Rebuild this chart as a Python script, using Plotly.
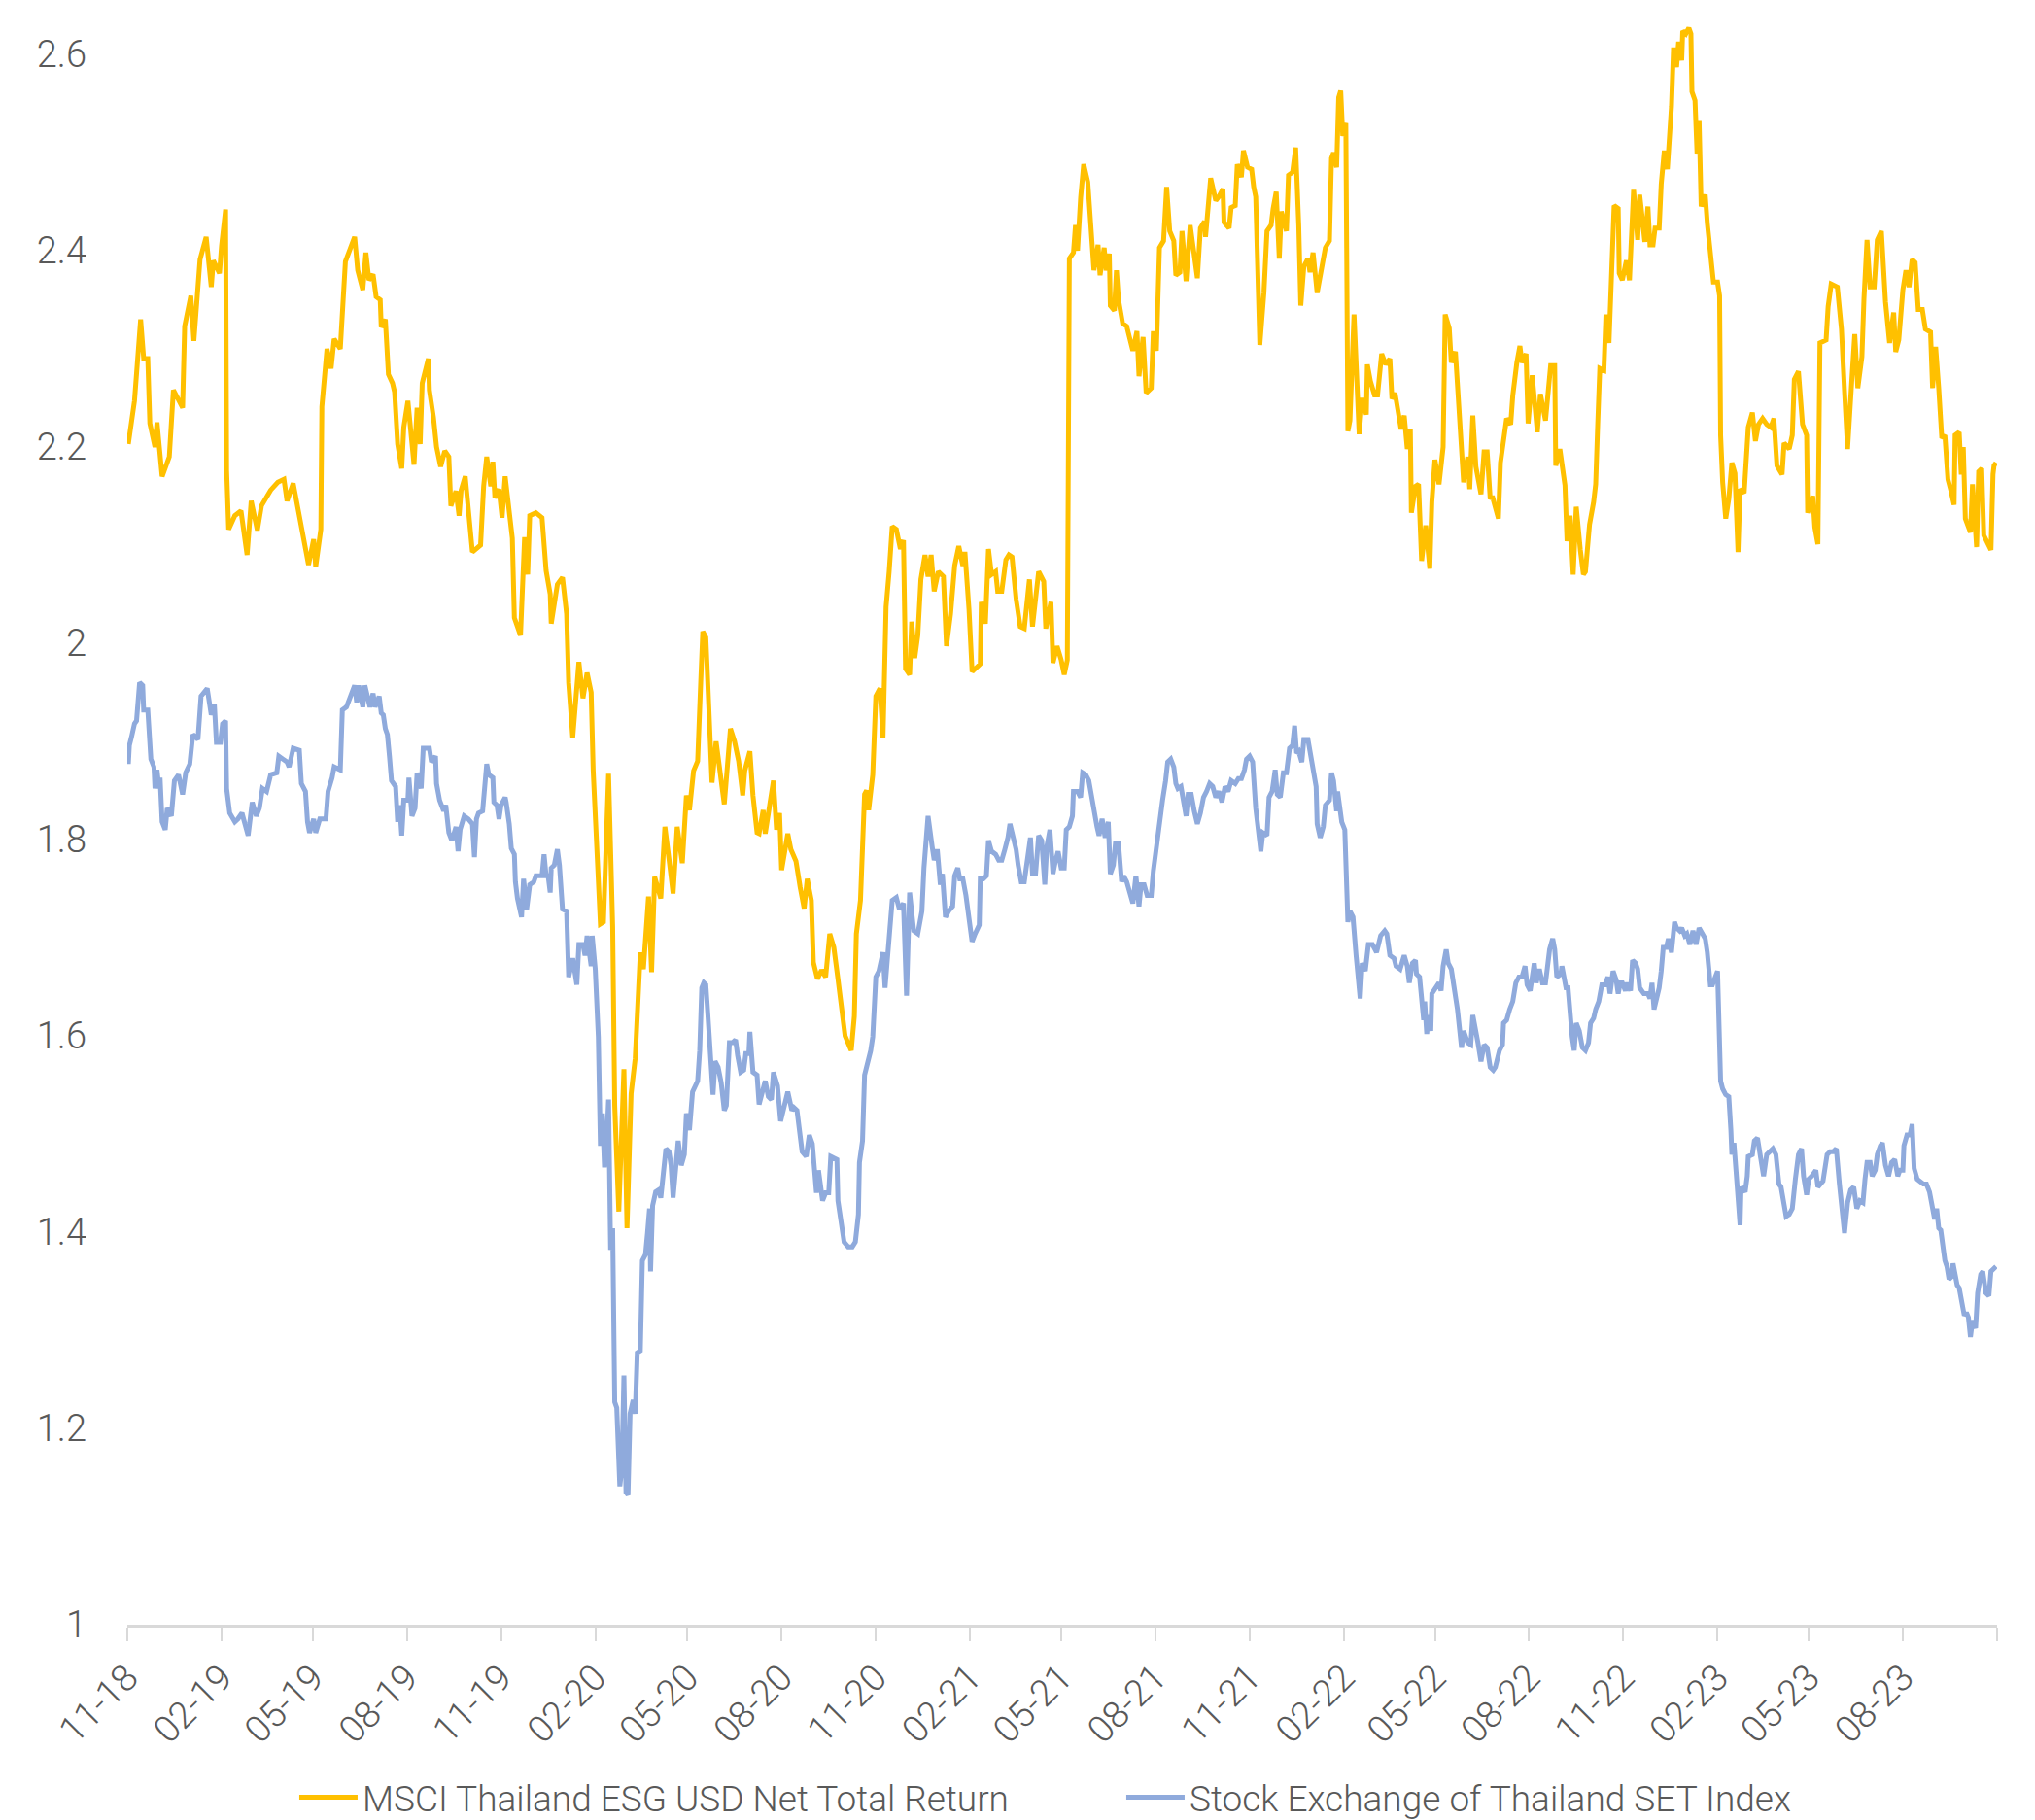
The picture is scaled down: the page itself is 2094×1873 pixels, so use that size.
import pandas as pd
import plotly.graph_objects as go

START = pd.Timestamp("2018-11-01")

# MSCI Thailand ESG USD Net Total Return (days since START, index value)
msci_days = [
    1, 3, 7, 13, 16, 20, 22, 27, 29, 34,
    41, 45, 54, 56, 62, 65, 71, 77, 82, 84,
    90, 92, 96, 97, 99, 105, 111, 117, 121, 127,
    131, 140, 147, 153, 156, 162, 168, 177, 182, 184,
    189, 190, 195, 199, 202, 208, 213, 222, 225, 230,
    233, 236, 240, 243, 247, 248, 252, 255, 259, 261,
    264, 268, 270, 274, 280, 283, 286, 288, 294, 295,
    299, 302, 306, 310, 314, 316, 321, 324, 326, 330,
    337, 342, 345, 348, 351, 355, 357, 359, 363, 366,
    369, 376, 378, 384, 388, 391, 393, 399, 405, 409,
    413, 414, 420, 425, 429, 431, 433, 435, 441, 445,
    449, 453, 455, 459, 462, 465, 467, 470, 474, 476,
    480, 485, 488, 492, 496, 501, 504, 509, 512, 515,
    521, 525, 529, 533, 537, 542, 546, 549, 553, 557,
    560, 562, 565, 571, 575, 579, 583, 589, 593, 597,
    601, 603, 608, 611, 615, 617, 621, 623, 628, 631,
    634, 637, 639, 645, 648, 653, 657, 661, 664, 668,
    670, 674, 678, 682, 686, 690, 694, 698, 701, 707,
    710, 712, 716, 720, 722, 724, 728, 731, 735, 738,
    741, 744, 747, 751, 755, 758, 760, 764, 766, 769,
    772, 775, 779, 782, 785, 788, 792, 797, 800, 804,
    808, 812, 816, 818, 822, 825, 828, 833, 834, 838,
    841, 844, 848, 850, 854, 858, 861, 864, 868, 872,
    876, 881, 884, 890, 895, 897, 902, 904, 908, 912,
    915, 918, 920, 924, 926, 928, 931, 934, 938, 940,
    944, 948, 950, 954, 956, 959, 960, 964, 966, 968,
    972, 976, 979, 982, 986, 988, 992, 995, 1000, 1002,
    1005, 1008, 1012, 1015, 1018, 1022, 1024, 1028, 1030, 1034,
    1038, 1042, 1045, 1048, 1052, 1053, 1056, 1058, 1063, 1066,
    1070, 1071, 1076, 1078, 1082, 1084, 1088, 1090, 1094, 1098,
    1100, 1102, 1106, 1110, 1113, 1117, 1119, 1122, 1125, 1127,
    1132, 1134, 1138, 1141, 1144, 1146, 1149, 1153, 1155, 1158,
    1162, 1165, 1170, 1174, 1176, 1178, 1181, 1183, 1185, 1187,
    1190, 1192, 1194, 1198, 1201, 1203, 1206, 1210, 1211, 1214,
    1218, 1221, 1225, 1229, 1233, 1235, 1238, 1240, 1244, 1247,
    1250, 1253, 1254, 1258, 1261, 1264, 1268, 1272, 1274, 1277,
    1281, 1285, 1287, 1291, 1293, 1297, 1301, 1305, 1309, 1311,
    1314, 1317, 1322, 1325, 1328, 1331, 1333, 1339, 1341, 1347,
    1351, 1353, 1357, 1360, 1362, 1366, 1368, 1372, 1377, 1380,
    1385, 1388, 1390, 1394, 1395, 1399, 1404, 1406, 1409, 1412,
    1415, 1419, 1422, 1424, 1428, 1432, 1434, 1436, 1438, 1442,
    1444, 1447, 1450, 1452, 1456, 1457, 1460, 1464, 1467, 1471,
    1475, 1477, 1482, 1485, 1487, 1490, 1492, 1496, 1498, 1501,
    1504, 1508, 1510, 1513, 1515, 1518, 1519, 1522, 1525, 1527,
    1528, 1531, 1533, 1535, 1537, 1541, 1543, 1547, 1549, 1553,
    1555, 1556, 1558, 1561, 1564, 1567, 1570, 1573, 1575, 1579,
    1583, 1587, 1590, 1593, 1597, 1601, 1605, 1608, 1611, 1616,
    1618, 1623, 1626, 1628, 1632, 1636, 1640, 1641, 1646, 1648,
    1651, 1653, 1659, 1661, 1664, 1670, 1674, 1677, 1680, 1684,
    1687, 1690, 1694, 1696, 1699, 1702, 1706, 1709, 1713, 1717,
    1721, 1725, 1727, 1730, 1734, 1737, 1740, 1743, 1746, 1749,
    1753, 1756, 1761, 1763, 1766, 1769, 1772, 1775, 1778, 1781,
    1784, 1785, 1789, 1791, 1793, 1795, 1800, 1802, 1806, 1808,
    1811, 1813, 1818, 1820, 1822, 1823, 1825,
]
msci_values = [
    2.203, 2.22, 2.247, 2.33, 2.29, 2.29, 2.224, 2.20, 2.225, 2.17,
    2.19, 2.258, 2.24, 2.323, 2.354, 2.308, 2.391, 2.414, 2.363, 2.39,
    2.377, 2.405, 2.442, 2.176, 2.116, 2.13, 2.135, 2.09, 2.145, 2.115,
    2.14, 2.156, 2.164, 2.167, 2.145, 2.163, 2.127, 2.08, 2.106, 2.078,
    2.116, 2.241, 2.30, 2.28, 2.31, 2.30, 2.389, 2.414, 2.38, 2.36,
    2.398, 2.37, 2.376, 2.353, 2.35, 2.322, 2.33, 2.274, 2.265, 2.256,
    2.203, 2.178, 2.22, 2.247, 2.182, 2.24, 2.203, 2.265, 2.29, 2.258,
    2.23, 2.20, 2.18, 2.196, 2.19, 2.14, 2.155, 2.13, 2.156, 2.17,
    2.093, 2.097, 2.10, 2.16, 2.19, 2.16, 2.185, 2.148, 2.157, 2.128,
    2.17, 2.107, 2.026, 2.008, 2.108, 2.07, 2.13, 2.133, 2.128, 2.074,
    2.05, 2.02, 2.06, 2.067, 2.03, 1.96, 1.933, 1.904, 1.981, 1.944,
    1.97, 1.95, 1.87, 1.785, 1.714, 1.716, 1.779, 1.867, 1.711, 1.529,
    1.421, 1.566, 1.404, 1.541, 1.577, 1.685, 1.668, 1.742, 1.665, 1.762,
    1.74, 1.813, 1.78, 1.745, 1.813, 1.776, 1.845, 1.83, 1.87, 1.88,
    1.961, 2.012, 2.006, 1.858, 1.90, 1.87, 1.836, 1.913, 1.90, 1.88,
    1.845, 1.87, 1.89, 1.845, 1.807, 1.806, 1.83, 1.806, 1.84, 1.86,
    1.81, 1.827, 1.769, 1.806, 1.79, 1.778, 1.752, 1.73, 1.76, 1.738,
    1.675, 1.658, 1.667, 1.66, 1.704, 1.69, 1.658, 1.62, 1.60, 1.585,
    1.62, 1.704, 1.738, 1.846, 1.85, 1.83, 1.866, 1.946, 1.954, 1.903,
    2.037, 2.073, 2.119, 2.116, 2.096, 2.105, 1.974, 1.968, 2.022, 1.985,
    2.008, 2.065, 2.09, 2.068, 2.09, 2.053, 2.073, 2.068, 1.997, 2.03,
    2.079, 2.099, 2.079, 2.093, 2.034, 1.971, 1.974, 1.979, 2.042, 2.02,
    2.096, 2.07, 2.073, 2.053, 2.053, 2.085, 2.09, 2.088, 2.045, 2.017,
    2.015, 2.065, 2.017, 2.073, 2.063, 2.015, 2.042, 1.98, 1.997, 1.983,
    1.968, 1.983, 2.392, 2.398, 2.426, 2.40, 2.454, 2.488, 2.47, 2.435,
    2.38, 2.406, 2.375, 2.403, 2.38, 2.397, 2.344, 2.339, 2.38, 2.35,
    2.326, 2.323, 2.312, 2.298, 2.318, 2.272, 2.312, 2.255, 2.26, 2.318,
    2.298, 2.403, 2.41, 2.465, 2.42, 2.41, 2.375, 2.378, 2.42, 2.369,
    2.426, 2.394, 2.372, 2.423, 2.43, 2.414, 2.46, 2.474, 2.451, 2.455,
    2.463, 2.429, 2.423, 2.444, 2.446, 2.488, 2.475, 2.502, 2.485, 2.483,
    2.465, 2.455, 2.304, 2.357, 2.42, 2.426, 2.443, 2.46, 2.392, 2.44,
    2.42, 2.477, 2.48, 2.505, 2.426, 2.344, 2.384, 2.392, 2.378, 2.398,
    2.357, 2.375, 2.403, 2.41, 2.494, 2.50, 2.485, 2.556, 2.563, 2.517,
    2.53, 2.216, 2.227, 2.335, 2.261, 2.213, 2.25, 2.233, 2.284, 2.267,
    2.253, 2.253, 2.295, 2.284, 2.29, 2.249, 2.255, 2.24, 2.218, 2.232,
    2.198, 2.218, 2.133, 2.16, 2.162, 2.084, 2.12, 2.076, 2.144, 2.187,
    2.162, 2.20, 2.335, 2.321, 2.286, 2.297, 2.229, 2.164, 2.19, 2.157,
    2.232, 2.18, 2.152, 2.195, 2.195, 2.147, 2.15, 2.127, 2.184, 2.229,
    2.223, 2.252, 2.286, 2.303, 2.286, 2.295, 2.224, 2.273, 2.215, 2.254,
    2.227, 2.262, 2.283, 2.283, 2.181, 2.198, 2.161, 2.104, 2.13, 2.07,
    2.139, 2.095, 2.07, 2.073, 2.121, 2.144, 2.162, 2.224, 2.28, 2.278,
    2.335, 2.306, 2.374, 2.446, 2.443, 2.377, 2.37, 2.39, 2.37, 2.462,
    2.411, 2.457, 2.409, 2.445, 2.406, 2.406, 2.423, 2.423, 2.468, 2.502,
    2.483, 2.547, 2.607, 2.587, 2.613, 2.594, 2.624, 2.621, 2.627, 2.621,
    2.562, 2.553, 2.499, 2.532, 2.445, 2.457, 2.428, 2.391, 2.368, 2.368,
    2.354, 2.212, 2.164, 2.127, 2.147, 2.184, 2.173, 2.093, 2.157, 2.153,
    2.22, 2.235, 2.206, 2.223, 2.229, 2.223, 2.22, 2.229, 2.181, 2.172,
    2.204, 2.198, 2.212, 2.269, 2.277, 2.223, 2.212, 2.133, 2.15, 2.118,
    2.101, 2.306, 2.309, 2.343, 2.366, 2.363, 2.32, 2.257, 2.198, 2.266,
    2.315, 2.26, 2.292, 2.351, 2.411, 2.363, 2.363, 2.411, 2.42, 2.348,
    2.306, 2.337, 2.297, 2.309, 2.36, 2.38, 2.363, 2.391, 2.388, 2.34,
    2.34, 2.32, 2.317, 2.26, 2.302, 2.26, 2.209, 2.212, 2.167, 2.155,
    2.141, 2.212, 2.215, 2.172, 2.20, 2.127, 2.113, 2.162, 2.098, 2.175,
    2.178, 2.11, 2.10, 2.095, 2.172, 2.181, 2.184,
]

# Stock Exchange of Thailand SET Index (days since START, index value)
set_days = [
    1, 2, 4, 7, 9, 12, 15, 16, 20, 21,
    23, 26, 27, 29, 31, 32, 34, 37, 39, 43,
    46, 50, 54, 57, 61, 64, 69, 72, 76, 78,
    82, 85, 87, 91, 93, 96, 97, 100, 105, 108,
    112, 115, 118, 122, 126, 129, 132, 136, 140, 146,
    148, 152, 156, 158, 162, 168, 170, 174, 176, 178,
    182, 184, 188, 194, 196, 200, 202, 208, 210, 214,
    218, 222, 224, 226, 230, 232, 237, 240, 242, 246,
    248, 250, 252, 254, 256, 258, 262, 264, 266, 268,
    270, 274, 275, 278, 281, 283, 287, 289, 295, 297,
    301, 302, 305, 309, 311, 314, 317, 321, 323, 325,
    329, 333, 337, 339, 341, 343, 347, 349, 351, 353,
    357, 358, 361, 363, 365, 369, 370, 373, 375, 378,
    379, 381, 383, 385, 387, 390, 393, 397, 399, 405,
    407, 409, 411, 413, 414, 417, 420, 422, 425, 429,
    431, 435, 439, 441, 445, 447, 449, 453, 454, 457,
    460, 462, 464, 466, 468, 470, 472, 474, 476, 478,
    481, 483, 485, 487, 489, 491, 494, 496, 498, 501,
    503, 506, 508, 510, 511, 513, 516, 519, 521, 523,
    526, 529, 531, 533, 536, 538, 541, 544, 546, 549,
    552, 555, 557, 559, 561, 563, 565, 567, 569, 572,
    574, 577, 580, 583, 585, 588, 591, 594, 596, 599,
    602, 604, 607, 608, 611, 615, 617, 619, 623, 626,
    629, 631, 635, 638, 641, 645, 649, 651, 654, 657,
    659, 663, 666, 669, 671, 673, 675, 679, 682, 685,
    687, 691, 693, 694, 698, 700, 704, 708, 711, 714,
    715, 718, 720, 722, 724, 726, 728, 731, 734, 738,
    740, 744, 747, 751, 754, 758, 761, 764, 768, 772,
    776, 778, 782, 786, 788, 791, 794, 796, 799, 802,
    806, 808, 811, 813, 816, 819, 822, 825, 828, 832,
    833, 836, 839, 841, 844, 848, 851, 854, 857, 860,
    862, 865, 868, 870, 873, 876, 879, 882, 884, 887,
    890, 893, 896, 898, 901, 904, 906, 909, 912, 915,
    917, 920, 923, 924, 928, 931, 933, 936, 939, 942,
    945, 947, 949, 952, 955, 958, 960, 963, 965, 968,
    971, 973, 976, 978, 982, 985, 988, 990, 993, 996,
    1000, 1002, 1005, 1008, 1011, 1014, 1016, 1019, 1022, 1024,
    1026, 1029, 1032, 1034, 1036, 1039, 1042, 1045, 1048, 1051,
    1054, 1057, 1060, 1063, 1066, 1069, 1072, 1075, 1078, 1082,
    1085, 1088, 1091, 1093, 1096, 1099, 1102, 1105, 1107, 1109,
    1113, 1115, 1118, 1121, 1123, 1126, 1129, 1132, 1135, 1138,
    1140, 1142, 1144, 1147, 1149, 1153, 1156, 1158, 1161, 1162,
    1165, 1168, 1170, 1174, 1176, 1178, 1181, 1182, 1185, 1186,
    1189, 1192, 1194, 1197, 1200, 1202, 1204, 1206, 1209, 1212,
    1216, 1220, 1224, 1228, 1230, 1233, 1237, 1239, 1243, 1247,
    1250, 1252, 1255, 1258, 1259, 1262, 1264, 1266, 1267, 1269,
    1271, 1273, 1274, 1278, 1281, 1283, 1285, 1288, 1290, 1293,
    1295, 1297, 1299, 1303, 1305, 1309, 1312, 1314, 1317, 1319,
    1322, 1325, 1328, 1331, 1334, 1336, 1340, 1343, 1344, 1347,
    1350, 1353, 1356, 1359, 1362, 1365, 1367, 1370, 1374, 1376,
    1379, 1382, 1385, 1387, 1389, 1392, 1394, 1396, 1400, 1401,
    1405, 1407, 1409, 1411, 1413, 1415, 1418, 1421, 1424, 1427,
    1429, 1432, 1434, 1437, 1440, 1443, 1446, 1448, 1451, 1454,
    1456, 1458, 1460, 1463, 1465, 1468, 1470, 1473, 1475, 1477,
    1481, 1485, 1487, 1489, 1491, 1494, 1496, 1498, 1500, 1503,
    1505, 1508, 1511, 1513, 1516, 1518, 1521, 1523, 1526, 1529,
    1532, 1535, 1538, 1541, 1543, 1546, 1548, 1551, 1553, 1556,
    1558, 1561, 1564, 1566, 1567, 1569, 1571, 1573, 1575, 1576,
    1580, 1582, 1583, 1587, 1589, 1592, 1594, 1596, 1598, 1601,
    1604, 1607, 1610, 1613, 1615, 1618, 1620, 1623, 1626, 1629,
    1632, 1635, 1637, 1640, 1642, 1645, 1649, 1651, 1653, 1656,
    1660, 1663, 1666, 1669, 1672, 1674, 1677, 1680, 1683, 1686,
    1689, 1692, 1695, 1697, 1699, 1702, 1704, 1707, 1709, 1712,
    1714, 1717, 1720, 1723, 1726, 1729, 1731, 1734, 1735, 1738,
    1741, 1743, 1745, 1748, 1751, 1754, 1757, 1760, 1762, 1763,
    1765, 1767, 1769, 1771, 1773, 1775, 1777, 1779, 1781, 1783,
    1785, 1787, 1789, 1792, 1794, 1796, 1798, 1800, 1802, 1805,
    1807, 1810, 1812, 1815, 1818, 1820, 1823, 1825,
]
set_values = [
    1.877, 1.896, 1.904, 1.918, 1.921, 1.96, 1.957, 1.932, 1.932, 1.91,
    1.882, 1.874, 1.852, 1.871, 1.852, 1.863, 1.818, 1.81, 1.832, 1.824,
    1.86, 1.866, 1.846, 1.868, 1.877, 1.907, 1.902, 1.946, 1.952, 1.954,
    1.927, 1.938, 1.899, 1.899, 1.918, 1.921, 1.852, 1.827, 1.818, 1.821,
    1.827, 1.813, 1.804, 1.838, 1.824, 1.832, 1.852, 1.849, 1.866, 1.868,
    1.885, 1.882, 1.879, 1.874, 1.893, 1.891, 1.857, 1.849, 1.818, 1.807,
    1.821, 1.807, 1.821, 1.821, 1.849, 1.863, 1.874, 1.871, 1.932, 1.935,
    1.946, 1.957, 1.94, 1.957, 1.935, 1.957, 1.935, 1.949, 1.935, 1.946,
    1.929, 1.927, 1.913, 1.907, 1.885, 1.86, 1.854, 1.818, 1.835, 1.804,
    1.84, 1.84, 1.863, 1.824, 1.832, 1.868, 1.852, 1.893, 1.893, 1.879,
    1.885, 1.857, 1.84, 1.829, 1.835, 1.807, 1.799, 1.813, 1.788, 1.81,
    1.824, 1.821, 1.816, 1.782, 1.821, 1.827, 1.829, 1.863, 1.877, 1.866,
    1.863, 1.838, 1.835, 1.821, 1.835, 1.843, 1.838, 1.816, 1.791, 1.785,
    1.757, 1.74, 1.729, 1.721, 1.76, 1.729, 1.754, 1.757, 1.763, 1.763,
    1.785, 1.763, 1.763, 1.746, 1.771, 1.774, 1.79, 1.774, 1.729, 1.727,
    1.66, 1.679, 1.652, 1.693, 1.693, 1.682, 1.702, 1.671, 1.702, 1.668,
    1.599, 1.488, 1.521, 1.466, 1.488, 1.535, 1.382, 1.404, 1.227, 1.221,
    1.141, 1.16, 1.254, 1.135, 1.132, 1.215, 1.229, 1.215, 1.277, 1.279,
    1.371, 1.377, 1.399, 1.424, 1.36, 1.427, 1.441, 1.443, 1.435, 1.454,
    1.485, 1.482, 1.468, 1.435, 1.471, 1.493, 1.468, 1.479, 1.521, 1.504,
    1.543, 1.549, 1.554, 1.585, 1.649, 1.654, 1.652, 1.621, 1.593, 1.54,
    1.574, 1.568, 1.552, 1.524, 1.529, 1.593, 1.593, 1.596, 1.58, 1.563,
    1.565, 1.582, 1.582, 1.604, 1.563, 1.56, 1.53, 1.538, 1.554, 1.538,
    1.535, 1.563, 1.549, 1.513, 1.527, 1.543, 1.524, 1.527, 1.524, 1.499,
    1.482, 1.477, 1.499, 1.49, 1.465, 1.44, 1.463, 1.432, 1.44, 1.44,
    1.477, 1.474, 1.474, 1.432, 1.399, 1.39, 1.385, 1.385, 1.39, 1.418,
    1.471, 1.493, 1.56, 1.568, 1.577, 1.585, 1.599, 1.66, 1.666, 1.685,
    1.649, 1.699, 1.738, 1.741, 1.729, 1.735, 1.641, 1.746, 1.707, 1.704,
    1.727, 1.771, 1.824, 1.793, 1.779, 1.79, 1.754, 1.765, 1.721, 1.727,
    1.732, 1.763, 1.771, 1.76, 1.76, 1.743, 1.716, 1.696, 1.704, 1.713,
    1.76, 1.76, 1.763, 1.799, 1.788, 1.785, 1.779, 1.779, 1.79, 1.802,
    1.816, 1.804, 1.79, 1.774, 1.757, 1.757, 1.779, 1.802, 1.765, 1.765,
    1.804, 1.799, 1.754, 1.793, 1.81, 1.765, 1.776, 1.788, 1.771, 1.771,
    1.81, 1.813, 1.824, 1.849, 1.849, 1.843, 1.868, 1.866, 1.86, 1.84,
    1.824, 1.813, 1.804, 1.821, 1.802, 1.818, 1.765, 1.774, 1.796, 1.796,
    1.757, 1.763, 1.757, 1.749, 1.735, 1.763, 1.732, 1.754, 1.754, 1.743,
    1.743, 1.768, 1.793, 1.821, 1.84, 1.86, 1.879, 1.882, 1.874, 1.857,
    1.852, 1.854, 1.832, 1.824, 1.846, 1.846, 1.829, 1.816, 1.827, 1.843,
    1.849, 1.857, 1.854, 1.843, 1.849, 1.838, 1.854, 1.849, 1.86, 1.857,
    1.862, 1.862, 1.871, 1.882, 1.885, 1.879, 1.832, 1.799, 1.788, 1.807,
    1.804, 1.843, 1.849, 1.871, 1.846, 1.843, 1.868, 1.868, 1.893, 1.896,
    1.916, 1.888, 1.89, 1.879, 1.902, 1.902, 1.882, 1.868, 1.854, 1.816,
    1.802, 1.813, 1.835, 1.84, 1.868, 1.86, 1.829, 1.849, 1.829, 1.818,
    1.81, 1.716, 1.727, 1.721, 1.682, 1.654, 1.638, 1.674, 1.666, 1.693,
    1.693, 1.685, 1.702, 1.707, 1.704, 1.682, 1.679, 1.671, 1.668, 1.682,
    1.671, 1.654, 1.674, 1.677, 1.663, 1.66, 1.638, 1.616, 1.635, 1.602,
    1.621, 1.605, 1.643, 1.649, 1.654, 1.646, 1.671, 1.688, 1.674, 1.668,
    1.654, 1.643, 1.627, 1.588, 1.605, 1.593, 1.591, 1.621, 1.599, 1.593,
    1.574, 1.591, 1.588, 1.568, 1.565, 1.568, 1.585, 1.591, 1.613, 1.616,
    1.627, 1.635, 1.654, 1.66, 1.66, 1.671, 1.652, 1.646, 1.674, 1.654,
    1.668, 1.654, 1.654, 1.671, 1.688, 1.699, 1.688, 1.66, 1.663, 1.671,
    1.649, 1.649, 1.621, 1.599, 1.585, 1.613, 1.605, 1.588, 1.585, 1.593,
    1.613, 1.618, 1.627, 1.635, 1.652, 1.652, 1.66, 1.643, 1.666, 1.657,
    1.643, 1.654, 1.654, 1.646, 1.654, 1.646, 1.677, 1.674, 1.668, 1.649,
    1.643, 1.643, 1.638, 1.654, 1.627, 1.638, 1.649, 1.666, 1.69, 1.69,
    1.699, 1.685, 1.716, 1.71, 1.707, 1.71, 1.702, 1.704, 1.693, 1.707,
    1.693, 1.71, 1.704, 1.699, 1.685, 1.652, 1.652, 1.66, 1.666, 1.554,
    1.546, 1.54, 1.538, 1.504, 1.479, 1.491, 1.463, 1.446, 1.407, 1.446,
    1.441, 1.457, 1.477, 1.479, 1.493, 1.496, 1.482, 1.463, 1.457, 1.479,
    1.482, 1.485, 1.479, 1.449, 1.446, 1.427, 1.416, 1.418, 1.424, 1.454,
    1.479, 1.485, 1.457, 1.438, 1.454, 1.457, 1.463, 1.446, 1.449, 1.452,
    1.479, 1.482, 1.482, 1.485, 1.449, 1.432, 1.399, 1.43, 1.443, 1.446,
    1.424, 1.432, 1.43, 1.454, 1.471, 1.471, 1.457, 1.463, 1.479, 1.488,
    1.491, 1.468, 1.457, 1.471, 1.474, 1.457, 1.463, 1.463, 1.488, 1.499,
    1.499, 1.51, 1.465, 1.454, 1.452, 1.449, 1.449, 1.441, 1.43, 1.421,
    1.413, 1.424, 1.404, 1.402, 1.38, 1.371, 1.365, 1.352, 1.354, 1.368,
    1.357, 1.346, 1.343, 1.327, 1.315, 1.318, 1.313, 1.293, 1.31, 1.302,
    1.338, 1.357, 1.36, 1.338, 1.335, 1.36, 1.363, 1.365,
]

tick_labels = [
    "11-18", "02-19", "05-19", "08-19", "11-19", "02-20", "05-20", "08-20",
    "11-20", "02-21", "05-21", "08-21", "11-21", "02-22", "05-22", "08-22",
    "11-22", "02-23", "05-23", "08-23", "",
]
y_ticks = [1, 1.2, 1.4, 1.6, 1.8, 2, 2.2, 2.4, 2.6]


def to_dates(days):
    return START + pd.to_timedelta(days, unit="D")


tick_dates = pd.date_range("2018-11-01", "2023-11-01", freq="3MS")

GRAY = "#595959"
AXIS_FONT = dict(family="Roboto, Arial, sans-serif", size=38, color=GRAY, weight=300)
LEGEND_FONT = dict(family="Roboto, Arial, sans-serif", size=37, color=GRAY, weight=300)

fig = go.Figure()
fig.add_trace(go.Scatter(
    x=to_dates(msci_days), y=msci_values, mode="lines",
    name="MSCI Thailand ESG USD Net Total Return",
    line=dict(color="#FFC000", width=5),
))
fig.add_trace(go.Scatter(
    x=to_dates(set_days), y=set_values, mode="lines",
    name="Stock Exchange of Thailand SET Index",
    line=dict(color="#8FAADC", width=5),
))

# the page body keeps an 8px margin, so the figure is 8px smaller than the window
fig.update_layout(
    width=2086, height=1865,
    margin=dict(l=123, r=39, t=0, b=201),
    paper_bgcolor="white", plot_bgcolor="white",
    font=AXIS_FONT,
    showlegend=True,
    legend=dict(
        orientation="h", xref="container", yref="container",
        x=0.1414, xanchor="left", y=0.0123, yanchor="middle",
        font=LEGEND_FONT, itemwidth=60, entrywidth=776,
        bgcolor="rgba(0,0,0,0)",
    ),
)
fig.update_xaxes(
    type="date", range=[tick_dates[0], tick_dates[-1]],
    tickvals=tick_dates, ticktext=tick_labels, tickangle=-45,
    showgrid=False, zeroline=False,
    showline=True, linecolor="#d9d9d9", linewidth=2.5,
    ticks="outside", ticklen=14, tickwidth=2, tickcolor="#d9d9d9",
    tickfont=AXIS_FONT,
)
fig.update_yaxes(
    range=[1, 2.6475], tickvals=y_ticks, ticktext=[f"{v:g}" for v in y_ticks],
    showgrid=False, zeroline=False, showline=False, ticks="",
    ticklabelstandoff=41, tickfont=AXIS_FONT,
)

fig.write_html("out.html")
